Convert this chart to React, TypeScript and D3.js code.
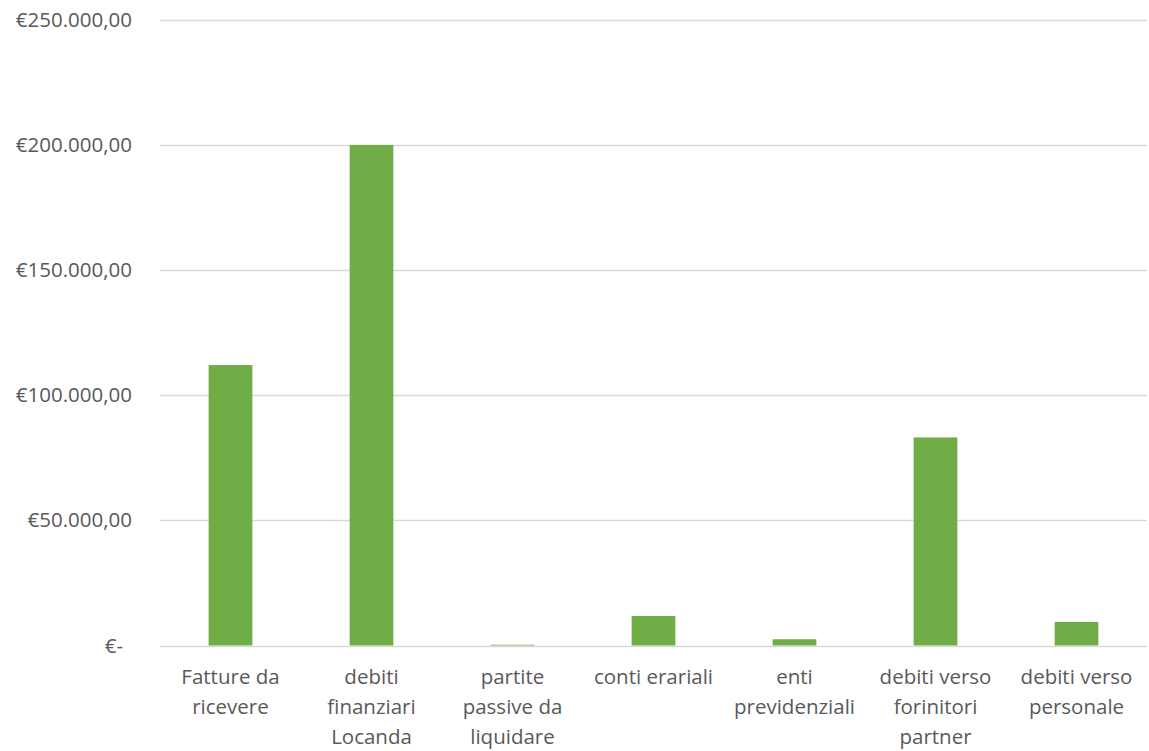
import { useEffect, useRef } from 'react';
import * as d3 from 'd3';

const categories = [
  'Fatture da ricevere',
  'debiti finanziari Locanda',
  'partite passive da liquidare',
  'conti erariali',
  'enti previdenziali',
  'debiti verso forinitori partner',
  'debiti verso personale',
];
const categoryLines = [
  ['Fatture da', 'ricevere'],
  ['debiti', 'finanziari', 'Locanda'],
  ['partite', 'passive da', 'liquidare'],
  ['conti erariali'],
  ['enti', 'previdenziali'],
  ['debiti verso', 'forinitori', 'partner'],
  ['debiti verso', 'personale'],
];
const values = [112000, 199900, 300, 11800, 2500, 83100, 9400];
const tickValues = [0, 50000, 100000, 150000, 200000, 250000];
const tickLabels = ['€-', '€50.000,00', '€100.000,00', '€150.000,00', '€200.000,00', '€250.000,00'];

const W = 1149;
const H = 751;
const FONT = "'Open Sans', sans-serif";
const FS = '20.5px';

export default function App() {
  const ref = useRef<SVGSVGElement>(null);

  useEffect(() => {
    const svg = d3.select(ref.current);
    svg.selectAll('*').remove();

    const left = 160;
    const right = 1147;
    const top = 19.5;
    const bottom = 645.5;

    const y = d3.scaleLinear().domain([0, 250000]).range([bottom, top]);
    const x = d3
      .scaleBand()
      .domain(categories)
      .range([left, right])
      .paddingInner(0.69)
      .paddingOuter(0.345);

    // gridlines
    svg
      .append('g')
      .selectAll('line')
      .data(tickValues)
      .enter()
      .append('line')
      .attr('x1', left)
      .attr('x2', right)
      .attr('y1', d => Math.round(y(d)) + 0.5)
      .attr('y2', d => Math.round(y(d)) + 0.5)
      .attr('stroke', '#d9d9d9')
      .attr('stroke-width', 1.3);

    // y labels
    svg
      .append('g')
      .selectAll('text')
      .data(tickValues)
      .enter()
      .append('text')
      .attr('x', (d, i) => (i === 0 ? 123 : 132))
      .attr('y', d => y(d))
      .attr('dy', '0.35em')
      .attr('text-anchor', 'end')
      .style('font-family', FONT)
      .style('font-size', FS)
      .style('fill', '#595959')
      .text((d, i) => tickLabels[i]);

    // bars
    svg
      .append('g')
      .selectAll('rect')
      .data(values)
      .enter()
      .append('rect')
      .attr('x', (d, i) => x(categories[i]) as number)
      .attr('width', x.bandwidth())
      .attr('y', d => y(d))
      .attr('height', d => bottom - y(d))
      .attr('fill', '#70ad47');

    // category labels
    const cat = svg
      .append('g')
      .selectAll('text')
      .data(categories)
      .enter()
      .append('text')
      .attr('text-anchor', 'middle')
      .style('font-family', FONT)
      .style('font-size', FS)
      .style('fill', '#595959');
    cat
      .selectAll('tspan')
      .data((d, i) => categoryLines[i].map(l => ({ l, c: d })))
      .enter()
      .append('tspan')
      .attr('x', d => (x(d.c) as number) + x.bandwidth() / 2)
      .attr('y', (d, j) => 684 + j * 30)
      .text(d => d.l);
  }, []);

  return <svg ref={ref} width={W} height={H} style={{ position: 'absolute', left: 0, top: 0 }} />;
}
